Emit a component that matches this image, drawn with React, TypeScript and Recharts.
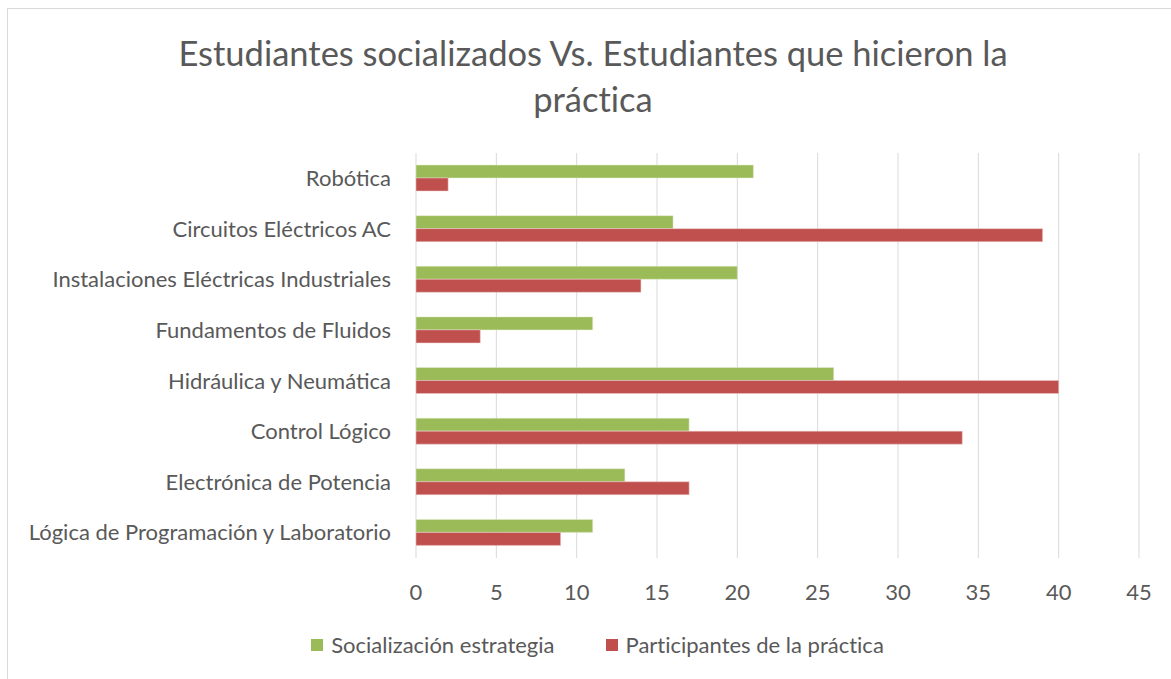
import { BarChart, Bar, XAxis, YAxis, CartesianGrid, Legend } from 'recharts';

const categories = [
  'Robótica',
  'Circuitos Eléctricos AC',
  'Instalaciones Eléctricas Industriales',
  'Fundamentos de Fluidos',
  'Hidráulica y Neumática',
  'Control Lógico',
  'Electrónica de Potencia',
  'Lógica de Programación y Laboratorio',
];
const socializacion = [21, 16, 20, 11, 26, 17, 13, 11];
const participantes = [2, 39, 14, 4, 40, 34, 17, 9];
const xTicks = [0, 5, 10, 15, 20, 25, 30, 35, 40, 45];
const seriesNames = ['Socialización estrategia', 'Participantes de la práctica'];
const seriesColors = ['#9bbb59', '#c0504d'];

const data = categories.map((name, i) => ({
  name,
  soc: socializacion[i],
  par: participantes[i],
}));

const FONT = 'Lato, "Open Sans", sans-serif';
const TEXT = '#595959';

const renderLegend = () => (
  <div style={{ display: 'flex', justifyContent: 'center', gap: 51, fontFamily: FONT, fontSize: 22, color: TEXT, fontVariantLigatures: 'none' }}>
    {seriesNames.map((name, i) => (
      <div key={name} style={{ display: 'flex', alignItems: 'center' }}>
        <span style={{ display: 'inline-block', width: 12, height: 12, background: seriesColors[i], marginRight: 8 }} />
        <span>{name}</span>
      </div>
    ))}
  </div>
);

export default function App() {
  return (
    <div style={{ position: 'absolute', left: 0, top: 0, width: 1171, height: 679, background: '#fff', overflow: 'hidden' }}>
      <div style={{ position: 'absolute', left: 7, top: 8, width: 1180, height: 690, border: '1px solid #d9d9d9', boxSizing: 'border-box' }} />
      <div style={{ position: 'absolute', left: 0, top: 30, width: 1186, textAlign: 'center', fontFamily: FONT, fontSize: 34.5, color: TEXT, lineHeight: '46px', fontVariantLigatures: 'none' }}>
        Estudiantes socializados Vs. Estudiantes que hicieron la
        <br />
        práctica
      </div>
      <div style={{ position: 'absolute', left: 0, top: 0 }}>
        <BarChart
          width={1171}
          height={679}
          data={data}
          layout="vertical"
          margin={{ top: 153, right: 32, left: 0, bottom: 54 }}
          barGap={0}
          barSize={13}
        >
          <CartesianGrid horizontal={false} stroke="#d9d9d9" />
          <XAxis
            type="number"
            domain={[0, 45]}
            ticks={xTicks}
            axisLine={false}
            tickLine={false}
            height={40}
            tickMargin={20}
            tick={{ fill: TEXT, fontSize: 22, fontFamily: FONT }}
            interval={0}
          />
          <YAxis
            type="category"
            dataKey="name"
            width={416}
            axisLine={false}
            tickLine={false}
            tickMargin={19}
            tick={{ fill: TEXT, fontSize: 22, fontFamily: FONT }}
            interval={0}
          />
          <Legend
            verticalAlign="bottom"
            content={renderLegend}
            wrapperStyle={{ position: 'absolute', top: 631, left: 12, width: 1171 }}
          />
          <Bar dataKey="soc" name={seriesNames[0]} fill={seriesColors[0]} stroke="#e4edd2" strokeWidth={0.5} isAnimationActive={false} />
          <Bar dataKey="par" name={seriesNames[1]} fill={seriesColors[1]} stroke="#ecc9c8" strokeWidth={0.5} isAnimationActive={false} />
        </BarChart>
      </div>
    </div>
  );
}
